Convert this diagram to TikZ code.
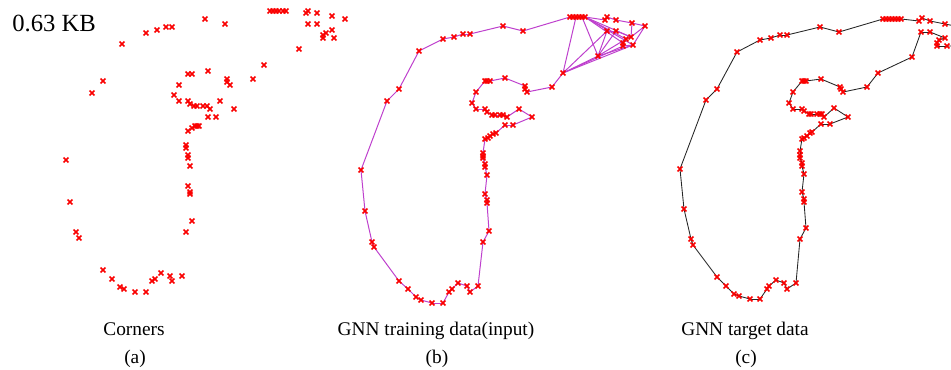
\documentclass[tikz,border=0pt]{standalone}
\usepackage{fontspec}
\setmainfont{Liberation Serif}
\definecolor{edgecol}{RGB}{190,64,205}
\definecolor{mkred}{RGB}{250,0,0}
\begin{document}
\begin{tikzpicture}[x=0.75pt,y=-0.75pt,
  mk/.style={draw=mkred, line width=1.3pt},
  edgeb/.style={draw=edgecol, line width=0.75pt},
  edgec/.style={draw=black!85, line width=0.65pt},
  lbl/.style={font=\fontsize{14.5}{16}\selectfont, anchor=base, inner sep=0pt}]
\useasboundingbox (0,0) rectangle (951,369);
\clip (0,0) rectangle (951,369);

% ---------- panel (a): corners ----------
\foreach \x/\y [count=\i] in {122/44,146/33,157/30,166/27,172/27,205/19,225/24,
  270/11,273/11,276/11,279/11,283/11,286/11,
  306/13,308/11,317/13,332/16,345/19,308/24,317/24,332/30,326/33,323/35,323/38,334/38,299/49,264/65,253/79,
  103/81,92/93,
  188/74,192/74,208/71,227/79,227/82,230/85,179/85,174/95,179/101,188/101,190/104,194/106,197/106,203/106,207/106,210/109,220/101,234/109,208/117,216/117,
  188/131,192/128,195/126,197/126,199/126,
  186/145,186/148,188/155,188/158,190/166,188/186,190/192,190/194,192/221,186/232,
  66/160,70/202,76/232,79/238,
  103/270,112/279,120/287,124/289,135/292,146/292,152/281,155/279,161/273,170/276,172/281,182/276}
  {\coordinate (a\i) at (\x,\y);
   \draw[mk] (a\i) ++(-2.4,-2.4) -- ++(4.8,4.8) ++(-4.8,0) -- ++(4.8,-4.8);}

% ---------- panel (b): training data ----------
\foreach \x/\y [count=\i] in {570/17,573/17,576/17,579/17,582/17,585/17,605/20,607/17,616/20,632/23,645/26,
  633/45,623/46,623/43,626/39,631/37,616/31,607/31,598/56,563/73,
  552/87,527/92,525/89,525/86,505/78,490/81,487/81,485/81,476/92,472/103,476/109,485/109,487/112,
  492/115,495/115,500/115,503/115,507/117,519/109,532/117,513/125,505/125,496/133,493/134,490/136,488/138,485/139,
  483/153,483/156,483/158,485/164,485/167,487/175,485/194,487/200,487/203,489/231,483/242,
  478/286,470/292,467/286,458/283,452/289,449/292,443/303,432/303,421/300,416/297,408/289,399/281,
  374/247,372/242,365/211,361/170,387/101,399/89,419/51,443/39,454/37,463/34,470/34,503/26,523/31}
  {\coordinate (b\i) at (\x,\y);}

\foreach \i in {20,...,82} {\pgfmathtruncatemacro\j{\i+1}\draw[edgeb] (b\i) -- (b\j);}
\foreach \i in {1,...,5} {\pgfmathtruncatemacro\j{\i+1}\draw[edgeb] (b\i) -- (b\j);}
\draw[edgeb] (b83) -- (b1);
\foreach \i/\j in {3/20,5/19,6/7,6/15,6/14,6/12,6/16,7/8,8/9,9/10,10/11,11/16,11/12,
  12/13,13/14,14/15,15/16,16/17,17/18,18/19,19/17,19/15,19/12,20/18,20/13,20/12,20/19,10/16}
  {\draw[edgeb] (b\i) -- (b\j);}
\foreach \i in {1,...,83} {\draw[mk] (b\i) ++(-2.4,-2.4) -- ++(4.8,4.8) ++(-4.8,0) -- ++(4.8,-4.8);}

% ---------- panel (c): target data ----------
\foreach \x/\y [count=\i] in {883/19,886/19,889/19,892/19,895/19,898/19,901/19,919/21,922/18,930/21,945/24,
  947/46,937/46,937/43,939/40,945/38,930/32,921/32,912/57,878/73,867/87,843/92,841/89,840/87,821/79,
  806/81,804/81,802/81,793/92,789/103,793/109,802/109,804/111,809/114,811/114,817/114,820/114,822/114,824/117,
  834/108,848/117,830/124,821/124,812/132,810/133,807/136,804/138,802/139,800/151,800/155,800/158,
  802/163,802/166,804/174,802/192,804/199,804/202,806/228,800/239,796/283,787/289,784/283,776/280,
  769/286,767/289,760/299,750/299,739/296,734/294,726/286,717/277,693/245,691/239,684/209,680/169,
  706/100,717/89,737/52,760/40,771/38,780/35,787/35,820/27,839/32}
  {\coordinate (c\i) at (\x,\y);}
\coordinate (cx1) at (960,27);
\coordinate (cx2) at (958,46);

\foreach \i in {1,...,10} {\pgfmathtruncatemacro\j{\i+1}\draw[edgec] (c\i) -- (c\j);}
\draw[edgec] (c11) -- (cx1) -- (cx2) -- (c12);
\foreach \i in {12,...,83} {\pgfmathtruncatemacro\j{\i+1}\draw[edgec] (c\i) -- (c\j);}
\draw[edgec] (c84) -- (c1);
\foreach \i in {1,...,84} {\draw[mk] (c\i) ++(-2.4,-2.4) -- ++(4.8,4.8) ++(-4.8,0) -- ++(4.8,-4.8);}

% ---------- texts ----------
\node[font=\fontsize{18.5}{21}\selectfont, anchor=base west, inner sep=0pt] (size) at (12,31) {0.63 KB};
\node[lbl] (la) at (134,335) {Corners};
\node[lbl] (na) at (135,363) {(a)};
\node[lbl] (lb) at (436,335) {GNN training data(input)};
\node[lbl] (nb) at (437,363) {(b)};
\node[lbl] (lc) at (745,335) {GNN target data};
\node[lbl] (nc) at (746,363) {(c)};
\end{tikzpicture}
\end{document}
